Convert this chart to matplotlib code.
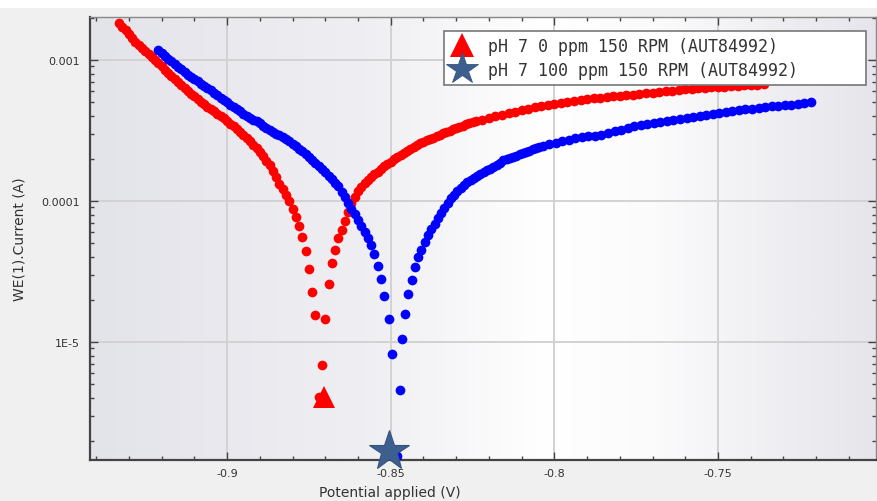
import numpy as np
import matplotlib
matplotlib.use("Agg")
import matplotlib.pyplot as plt
from matplotlib.colors import LinearSegmentedColormap
from matplotlib.lines import Line2D
from matplotlib.patches import Rectangle
from matplotlib.ticker import MultipleLocator, NullFormatter, LogLocator

# ---------------- data ----------------
red_label = "pH 7 0 ppm 150 RPM (AUT84992)"
blue_label = "pH 7 100 ppm 150 RPM (AUT84992)"

red_potential = [
    -0.933, -0.932, -0.931, -0.930, -0.929, -0.928, -0.927, -0.926, -0.925, -0.924,
    -0.923, -0.922, -0.921, -0.920, -0.919, -0.918, -0.917, -0.916, -0.915, -0.914,
    -0.913, -0.912, -0.911, -0.910, -0.909, -0.908, -0.907, -0.906, -0.905, -0.904,
    -0.903, -0.902, -0.901, -0.900, -0.899, -0.898, -0.897, -0.896, -0.895, -0.894,
    -0.893, -0.892, -0.891, -0.890, -0.889, -0.888, -0.887,
    -0.886, -0.885, -0.884, -0.883, -0.882, -0.881, -0.880, -0.879, -0.878, -0.877,
    -0.876, -0.875, -0.874, -0.873, -0.872, -0.871, -0.870, -0.869, -0.868, -0.867,
    -0.866, -0.865, -0.864, -0.863, -0.862, -0.861, -0.860,
    -0.859, -0.858, -0.857, -0.856, -0.855, -0.854, -0.853, -0.852, -0.851, -0.850,
    -0.849, -0.848, -0.847, -0.846, -0.845, -0.844, -0.843, -0.842, -0.841, -0.840,
    -0.839, -0.838, -0.837, -0.836, -0.835, -0.834, -0.833, -0.832, -0.831, -0.830,
    -0.829, -0.828, -0.827, -0.826, -0.825, -0.824,
    -0.822, -0.820, -0.818, -0.816, -0.814, -0.812, -0.810, -0.808, -0.806, -0.804,
    -0.802, -0.800, -0.798, -0.796, -0.794, -0.792, -0.790, -0.788, -0.786, -0.784,
    -0.782, -0.780, -0.778, -0.776, -0.774, -0.772, -0.770, -0.768, -0.766, -0.764,
    -0.762, -0.760, -0.758, -0.756, -0.754, -0.752, -0.750, -0.748, -0.746, -0.744,
    -0.742, -0.740, -0.738, -0.736,
]
red_log10_current = [
    -2.738, -2.763, -2.789, -2.815, -2.842, -2.869, -2.896, -2.917, -2.938, -2.959,
    -2.980, -3.001, -3.023, -3.046, -3.070, -3.093, -3.117, -3.138, -3.158, -3.178,
    -3.199, -3.218, -3.238, -3.257, -3.276, -3.295, -3.314, -3.331, -3.348, -3.364,
    -3.380, -3.397, -3.414, -3.433, -3.452, -3.471, -3.490, -3.511, -3.533, -3.555,
    -3.577, -3.600, -3.623, -3.652, -3.683, -3.715, -3.747,
    -3.790, -3.833, -3.876, -3.916, -3.957, -3.999, -4.055, -4.111, -4.178, -4.258,
    -4.358, -4.483, -4.646, -4.807, -5.390, -5.163, -4.838, -4.590, -4.440, -4.345,
    -4.264, -4.203, -4.144, -4.080, -4.014, -3.969, -3.928,
    -3.900, -3.875, -3.851, -3.828, -3.809, -3.791, -3.773, -3.755, -3.738, -3.721,
    -3.705, -3.690, -3.675, -3.660, -3.646, -3.632, -3.618, -3.604, -3.592, -3.580,
    -3.570, -3.560, -3.550, -3.540, -3.530, -3.520, -3.511, -3.502, -3.492, -3.483,
    -3.474, -3.465, -3.455, -3.446, -3.439, -3.433,
    -3.422, -3.411, -3.400, -3.389, -3.378, -3.368, -3.357, -3.347, -3.336, -3.327,
    -3.319, -3.312, -3.304, -3.297, -3.290, -3.284, -3.279, -3.273, -3.268, -3.263,
    -3.258, -3.254, -3.249, -3.245, -3.240, -3.236, -3.231, -3.226, -3.222, -3.217,
    -3.213, -3.209, -3.206, -3.202, -3.198, -3.195, -3.191, -3.188, -3.186, -3.183,
    -3.180, -3.177, -3.174, -3.172,
]

blue_potential = [
    -0.921, -0.920, -0.919, -0.918, -0.917, -0.916, -0.915, -0.914, -0.913, -0.912,
    -0.911, -0.910, -0.909, -0.908, -0.907, -0.906, -0.905, -0.904, -0.903, -0.902,
    -0.901, -0.900, -0.899, -0.898, -0.897, -0.896, -0.895, -0.894, -0.893, -0.892,
    -0.891, -0.890, -0.889, -0.888, -0.887, -0.886, -0.885, -0.884, -0.883, -0.882,
    -0.881, -0.880, -0.879, -0.878, -0.877, -0.876, -0.875, -0.874, -0.873, -0.872,
    -0.871, -0.870, -0.869, -0.868, -0.867,
    -0.866, -0.865, -0.864, -0.863, -0.862, -0.861, -0.860, -0.859, -0.858, -0.857,
    -0.856, -0.855, -0.854, -0.853, -0.852, -0.8506, -0.8497, -0.8482, -0.8472, -0.8466,
    -0.8456, -0.8446, -0.8436, -0.8426, -0.8416, -0.8406, -0.8396, -0.8386, -0.8376, -0.8366,
    -0.8356, -0.8346, -0.8336,
    -0.8326, -0.8316, -0.8306, -0.8296, -0.8286, -0.8276, -0.8266, -0.8256, -0.8246, -0.8236,
    -0.8226, -0.8216, -0.8206, -0.8196, -0.8186, -0.8176, -0.8166, -0.8156, -0.8146, -0.8136,
    -0.8126, -0.8116, -0.8106, -0.8096, -0.8086, -0.8076, -0.8066, -0.8056, -0.8046, -0.8036,
    -0.8016, -0.7996, -0.7976, -0.7956, -0.7936,
    -0.7916, -0.7896, -0.7876, -0.7856, -0.7836, -0.7816, -0.7796, -0.7776, -0.7756, -0.7736,
    -0.7716, -0.7696, -0.7676, -0.7656, -0.7636, -0.7616, -0.7596, -0.7576, -0.7556, -0.7536,
    -0.7516, -0.7496, -0.7476, -0.7456, -0.7436, -0.7416, -0.7396, -0.7376, -0.7356, -0.7336,
    -0.7316, -0.7296, -0.7276, -0.7256, -0.7236, -0.7216,
]
blue_log10_current = [
    -2.930, -2.950, -2.970, -2.990, -3.010, -3.029, -3.048, -3.067, -3.086, -3.104,
    -3.122, -3.137, -3.152, -3.167, -3.182, -3.199, -3.216, -3.233, -3.251, -3.268,
    -3.285, -3.301, -3.318, -3.334, -3.350, -3.365, -3.380, -3.394, -3.408, -3.422,
    -3.436, -3.450, -3.465, -3.479, -3.494, -3.508, -3.522, -3.535, -3.549, -3.562,
    -3.576, -3.594, -3.612, -3.629, -3.647, -3.666, -3.686, -3.708, -3.730, -3.751,
    -3.773, -3.797, -3.822, -3.846, -3.871,
    -3.895, -3.933, -3.974, -4.014, -4.054, -4.094, -4.135, -4.176, -4.218, -4.262,
    -4.311, -4.375, -4.460, -4.550, -4.674, -4.837, -5.085, -5.809, -5.340, -4.979,
    -4.800, -4.660, -4.560, -4.465, -4.400, -4.345, -4.290, -4.240, -4.200, -4.160,
    -4.120, -4.082, -4.048,
    -4.014, -3.980, -3.954, -3.928, -3.907, -3.886, -3.868, -3.850, -3.835, -3.820,
    -3.807, -3.795, -3.782, -3.770, -3.756, -3.742, -3.727, -3.712, -3.703, -3.695,
    -3.686, -3.678, -3.669, -3.660, -3.651, -3.643, -3.634, -3.625, -3.617, -3.610,
    -3.598, -3.587, -3.576, -3.564, -3.556,
    -3.549, -3.542, -3.536, -3.529, -3.520, -3.507, -3.495, -3.482, -3.471, -3.463,
    -3.455, -3.447, -3.439, -3.431, -3.424, -3.417, -3.410, -3.403, -3.396, -3.389,
    -3.382, -3.375, -3.368, -3.361, -3.355, -3.350, -3.344, -3.339, -3.333, -3.329,
    -3.326, -3.322, -3.319, -3.312, -3.305, -3.298,
]

# corrosion point markers (Ecorr / Icorr)
red_ecorr = [-0.8704]
red_icorr = [4.07e-6]
blue_ecorr = [-0.8506]
blue_icorr = [1.69e-6]

x_ticks = [-0.9, -0.85, -0.8, -0.75]
x_tick_labels = ["-0.9", "-0.85", "-0.8", "-0.75"]
y_ticks = [1e-5, 1e-4, 1e-3]
y_tick_labels = ["1E-5", "0.0001", "0.001"]
x_label = "Potential applied (V)"
y_label = "WE(1).Current (A)"

# ---------------- figure ----------------
W, H = 878, 502
fig = plt.figure(figsize=(W / 100, H / 100), dpi=100)
fig.patch.set_facecolor("#f0f0f0")
fig.patches.append(Rectangle((0, 1 - 9 / H), 1, 9 / H, transform=fig.transFigure,
                             facecolor="white", edgecolor="none", zorder=0))

L, R, T, B = 90, 876, 18, 461
pos = [L / W, 1 - B / H, (R - L) / W, (B - T) / H]

# gradient background behind the plot area
bg_ax = fig.add_axes(pos, zorder=0)
bg_cmap = LinearSegmentedColormap.from_list(
    "bg", [(0.0, "#e3e3ea"), (0.35, "#efeff3"), (0.58, "#ffffff"),
           (0.72, "#fbfbfc"), (1.0, "#e5e5eb")])
bg_ax.imshow(np.linspace(0, 1, 512)[None, :], aspect="auto", cmap=bg_cmap,
             extent=[0, 1, 0, 1])
bg_ax.axis("off")

ax = fig.add_axes(pos, zorder=1)
ax.patch.set_visible(False)
ax.set_yscale("log")
ax.set_xlim(-0.9419, -0.7017)
ax.set_ylim(10 ** (-5.837), 10 ** (-2.695))

red_current = np.power(10.0, red_log10_current)
blue_current = np.power(10.0, blue_log10_current)

ax.plot(red_potential, red_current, linestyle="none", marker="o", ms=7,
        mew=0, color="#ff0000", zorder=3)
ax.plot(blue_potential, blue_current, linestyle="none", marker="o", ms=7,
        mew=0, color="#0000ff", zorder=4)
ax.plot(red_ecorr, red_icorr, linestyle="none", marker="^", ms=16,
        mew=0, color="#ff0000", zorder=5, clip_on=False)
ax.plot(blue_ecorr, blue_icorr, linestyle="none", marker="*", ms=30,
        mew=0.8, mec="#34527e", color="#3d5f8f", zorder=5, clip_on=False)

# ticks
ax.set_xticks(x_ticks)
ax.set_xticklabels(x_tick_labels)
ax.xaxis.set_minor_locator(MultipleLocator(0.01))
ax.set_yticks(y_ticks)
ax.set_yticklabels(y_tick_labels)
ax.yaxis.set_minor_locator(LogLocator(base=10, subs=np.arange(2, 10)))
ax.yaxis.set_minor_formatter(NullFormatter())
ax.tick_params(which="both", direction="in", top=True, right=True,
               colors="#444444", labelsize=8, width=1)
ax.tick_params(which="major", length=6)
ax.tick_params(which="minor", length=3)
ax.tick_params(axis="x", which="major", pad=6)
ax.tick_params(axis="y", which="major", pad=7)
for lbl in ax.get_xticklabels() + ax.get_yticklabels():
    lbl.set_color("#333333")

ax.grid(True, which="major", color="#d2d2d2", linewidth=1.4)
ax.set_axisbelow(True)

for side in ["left", "bottom"]:
    ax.spines[side].set_color("#444444")
    ax.spines[side].set_linewidth(1.6)
for side in ["top", "right"]:
    ax.spines[side].set_color("#888888")
    ax.spines[side].set_linewidth(1.0)

ax.set_xlabel(x_label, fontsize=10, color="#333333")
ax.xaxis.label.set_verticalalignment("center")
ax.xaxis.set_label_coords((390 - L) / (R - L), -(493 - B) / (B - T))
ax.set_ylabel(y_label, fontsize=10, color="#333333")
ax.yaxis.label.set_verticalalignment("center")
ax.yaxis.set_label_coords(-(L - 20) / (R - L), 0.5)

# legend
handles = [
    Line2D([], [], linestyle="none", marker="^", ms=17, mew=0, color="#ff0000"),
    Line2D([], [], linestyle="none", marker="*", ms=24, mew=0.6, mec="#34527e",
           color="#3d5f8f"),
]
leg = ax.legend(handles, [red_label, blue_label],
                loc="upper left", mode="expand",
                bbox_to_anchor=(444 / W, 1 - 32 / H, (866 - 444) / W, 0.0),
                bbox_transform=fig.transFigure, borderaxespad=0,
                prop={"family": "DejaVu Sans Mono", "size": 12},
                handlelength=1.5, handletextpad=0.8, borderpad=0.35,
                labelspacing=0.35, fancybox=False, framealpha=1,
                edgecolor="#777777", facecolor="white", labelcolor="#333333")
leg.get_frame().set_linewidth(1.2)
leg.set_zorder(10)

fig.savefig("out.png", dpi=100, facecolor=fig.get_facecolor())
